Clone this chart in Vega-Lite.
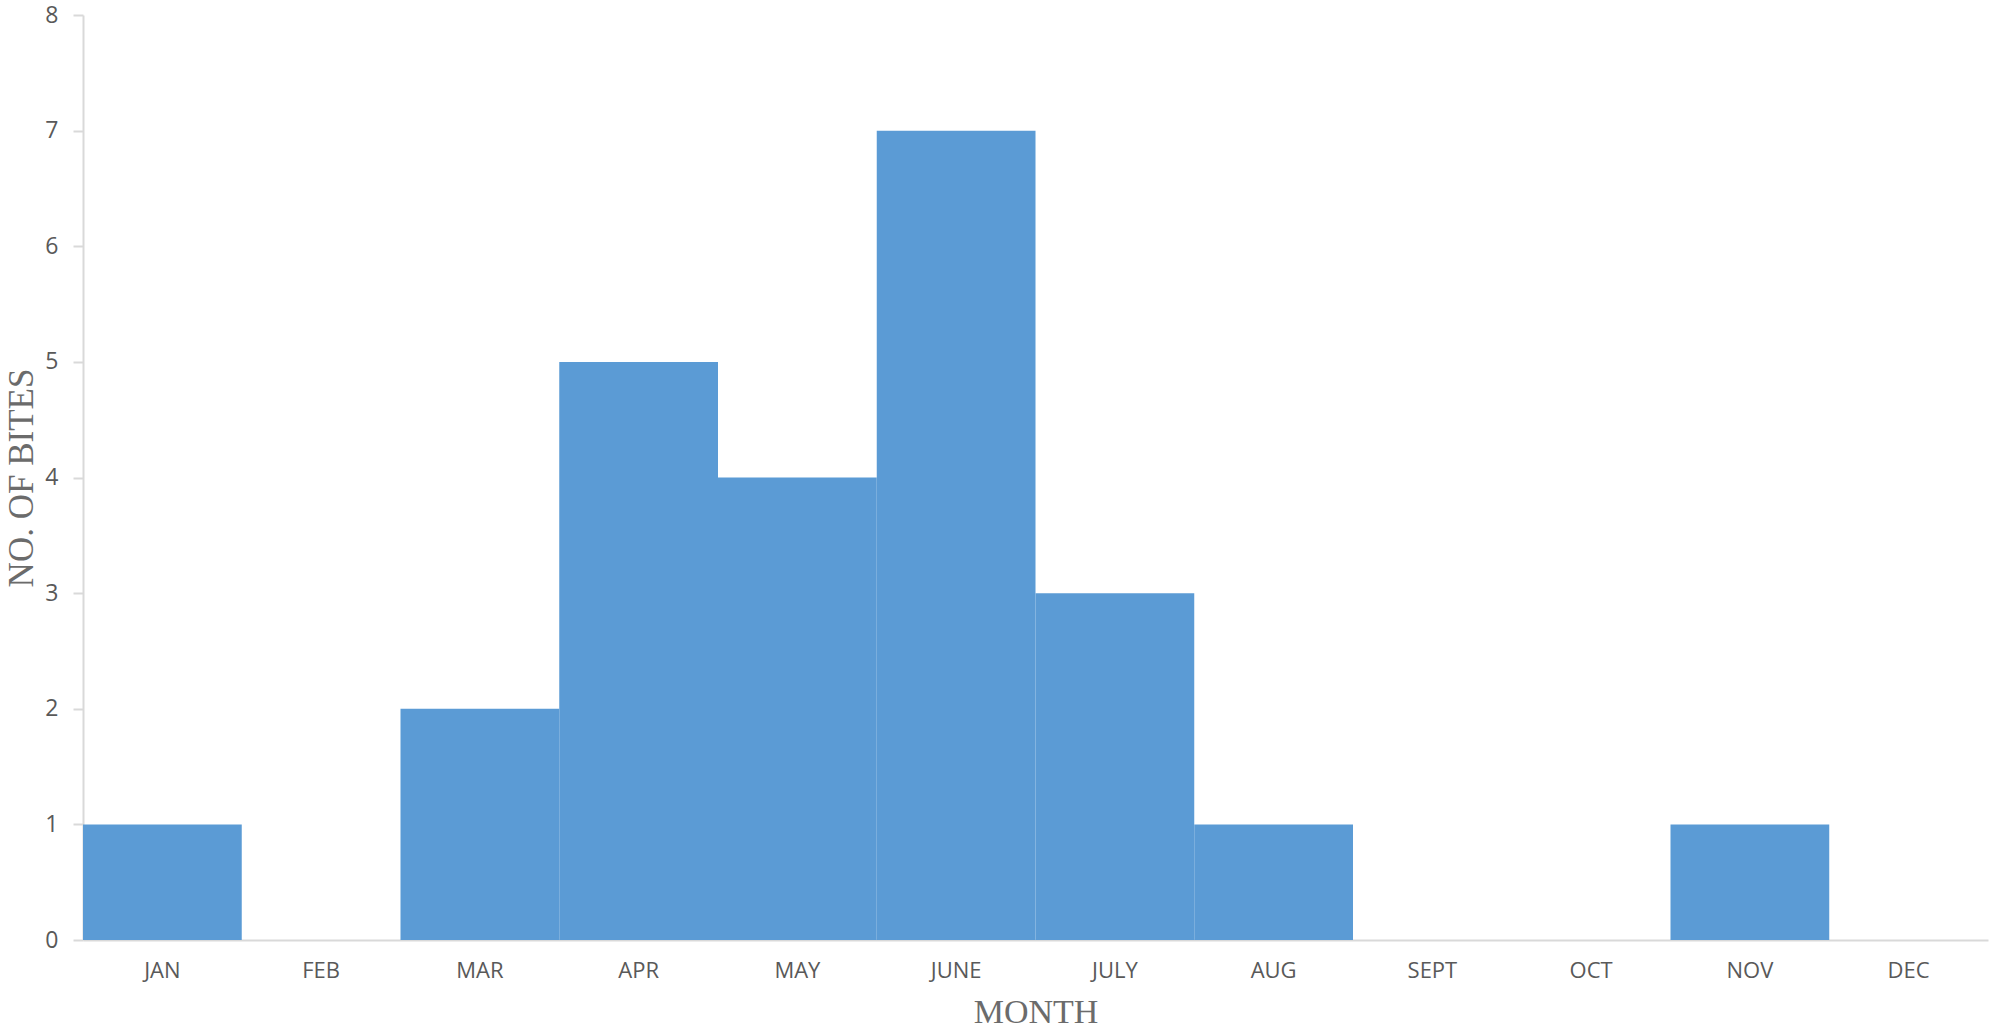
{
  "$schema": "https://vega.github.io/schema/vega-lite/v6.json",
  "width": 1905,
  "height": 925,
  "autosize": {"type": "none"},
  "padding": {"left": 83, "top": 15, "right": 6, "bottom": 90},
  "background": "white",
  "config": {"view": {"stroke": null}},
  "data": {
    "values": [
      {"month": "JAN", "bites": 1},
      {"month": "FEB", "bites": 0},
      {"month": "MAR", "bites": 2},
      {"month": "APR", "bites": 5},
      {"month": "MAY", "bites": 4},
      {"month": "JUNE", "bites": 7},
      {"month": "JULY", "bites": 3},
      {"month": "AUG", "bites": 1},
      {"month": "SEPT", "bites": 0},
      {"month": "OCT", "bites": 0},
      {"month": "NOV", "bites": 1},
      {"month": "DEC", "bites": 0}
    ]
  },
  "mark": {"type": "bar", "color": "#5B9BD5"},
  "encoding": {
    "x": {
      "field": "month",
      "type": "ordinal",
      "sort": ["JAN","FEB","MAR","APR","MAY","JUNE","JULY","AUG","SEPT","OCT","NOV","DEC"],
      "scale": {"paddingInner": 0, "paddingOuter": 0},
      "axis": {
        "title": "MONTH",
        "titleFont": "Liberation Serif",
        "titleFontSize": 34,
        "titleFontWeight": "normal",
        "titleColor": "#6b6b6b",
        "titleY": 82,
        "titleBaseline": "alphabetic",
        "labelAngle": 0,
        "labelFont": "Open Sans",
        "labelFontSize": 22,
        "labelColor": "#595959",
        "labelPadding": 20,
        "labelOverlap": false,
        "ticks": false,
        "tickSize": 0,
        "domainColor": "#D9D9D9",
        "domainWidth": 2
      }
    },
    "y": {
      "field": "bites",
      "type": "quantitative",
      "scale": {"domain": [0, 8]},
      "axis": {
        "title": "NO. OF BITES",
        "titleFont": "Liberation Serif",
        "titleFontSize": 35,
        "titleFontWeight": "normal",
        "titleColor": "#6b6b6b",
        "titleX": -51,
        "titleBaseline": "alphabetic",
        "values": [0,1,2,3,4,5,6,7,8],
        "labelOverlap": false,
        "grid": false,
        "labelFont": "Open Sans",
        "labelFontSize": 23,
        "labelColor": "#595959",
        "labelPadding": 15,
        "tickSize": 10,
        "tickColor": "#D9D9D9",
        "tickWidth": 2,
        "domainColor": "#D9D9D9",
        "domainWidth": 2
      }
    }
  }
}
